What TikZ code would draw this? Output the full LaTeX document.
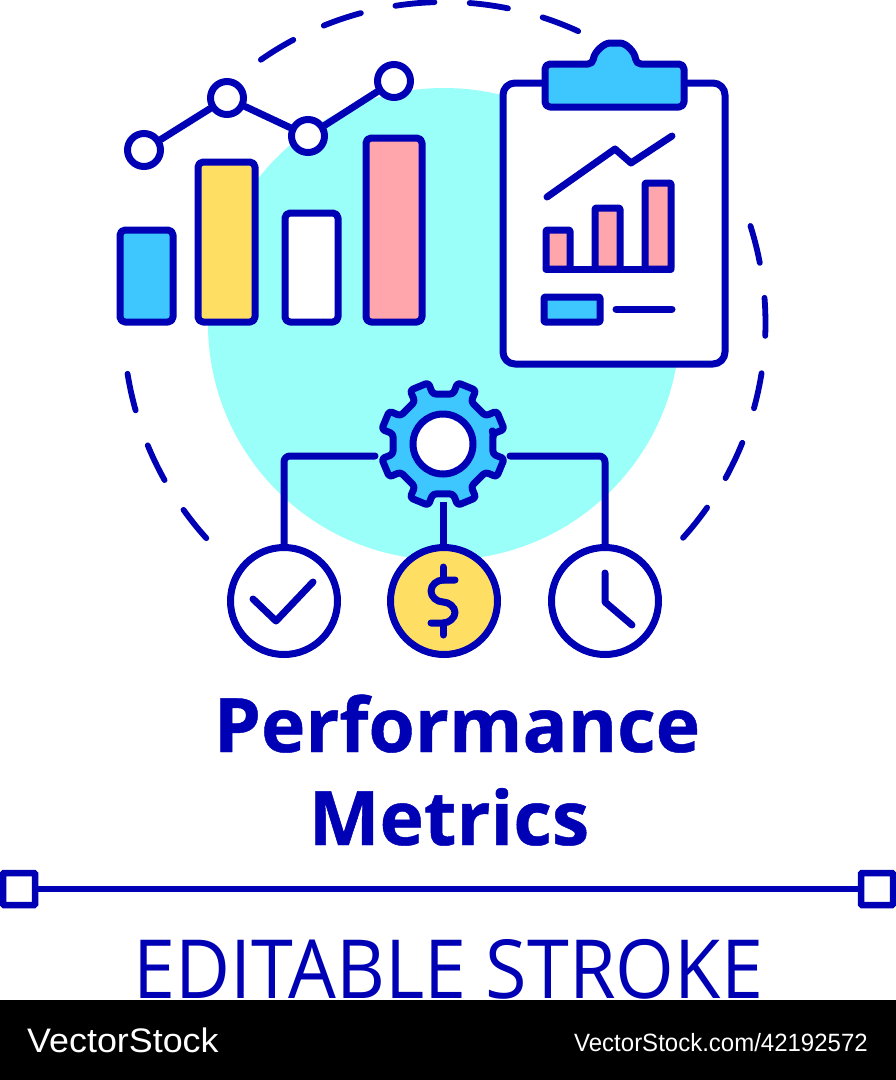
\documentclass[tikz,border=0pt]{standalone}
\usepackage{fontspec}
\setmainfont{Open Sans}
\newfontfamily\wmfont{Liberation Sans}
\newfontfamily\titlefont[FakeBold=0.6]{Open Sans Bold}
\definecolor{ink}{HTML}{0000B4}
\definecolor{aqua}{HTML}{9BFFF9}
\definecolor{sky}{HTML}{3EC6FF}
\definecolor{sun}{HTML}{FFDF63}
\definecolor{rose}{HTML}{FFA6AC}
\tikzset{
  ln/.style={draw=ink,line width=7pt,line cap=round,line join=round},
  barbox/.style={ln,rounded corners=5pt},
  smallbar/.style={ln,fill=rose,rounded corners=1pt},
  dot/.style={circle,draw=ink,line width=7pt,fill=white,minimum size=33pt,inner sep=0pt},
  disc/.style={circle,draw=ink,line width=7pt,minimum size=107pt,inner sep=0pt},
  dashes/.style={draw=ink,line width=5.8pt,line cap=round},
  handle/.style={draw=ink,line width=6.5pt,fill=white,rounded corners=1pt},
  wire/.style={ln,rounded corners=6pt}
}
\begin{document}
\begin{tikzpicture}[x=1pt,y=-1pt]
\useasboundingbox (0,0) rectangle (896,1080);
\fill[white] (0,0) rectangle (896,1080);
% aqua disc
\fill[aqua] (444,324) circle[radius=236pt];
% dashed ring
\foreach \p/\q in {124.9/118.1,112.1/105.1,98.8/91.8,85.5/78.6,72.2/65.4,17.6/10.8,4.5/-2.3,-9/-15.4,-21.9/-28.9,-35.1/-42,189.1/195.8,202.4/209.3,215.6/222.1}{
  \draw[dashes] plot[domain=\p:\q,samples=10,smooth] ({444.5+321*cos(\x)},{323-321*sin(\x)});
}
% bars
\draw[barbox,fill=sky] (120,230) rectangle (173,322);
\draw[barbox,fill=sun] (198,162) rectangle (255,322);
\draw[barbox,fill=white] (285,213) rectangle (338,322);
\draw[barbox,fill=rose] (366,138) rectangle (422,322);
% line chart
\node[dot] (p1) at (144,150) {};
\node[dot] (p2) at (227,98) {};
\node[dot] (p3) at (308,136) {};
\node[dot] (p4) at (394,81) {};
\draw[ln] (p1) -- (p2);
\draw[ln] (p2) -- (p3);
\draw[ln] (p3) -- (p4);
% clipboard
\draw[ln,fill=white,rounded corners=12pt] (503,83) rectangle (725,364);
\draw[ln,fill=sky,rounded corners=5pt] (593,64) .. controls (594,52) and (604,43) .. (615,43) .. controls (626,43) and (635,52) .. (636,64) -- (684,64) -- (684,107) -- (545,107) -- (545,64) -- cycle;
\draw[ln] (547,197) -- (615,149) -- (631,163) -- (672,136);
\draw[smallbar] (546,230) rectangle (570,269);
\draw[smallbar] (595,208) rectangle (620,269);
\draw[smallbar] (645,183) rectangle (671,269);
\draw[ln] (546,269) -- (671,269);
\draw[ln,fill=sky,rounded corners=1pt] (544,297) rectangle (600,322);
\draw[ln] (616,309) -- (672,309);
% gear
\draw[ln,fill=sky,rounded corners=3pt] ({443+51*cos(12)},{444-51*sin(12)})
  \foreach \a in {22.5,67.5,...,337.5}{
    -- ({443+51*cos(\a-11)},{444-51*sin(\a-11)})
    -- ({443+63*cos(\a-9)},{444-63*sin(\a-9)})
    -- ({443+63*cos(\a+9)},{444-63*sin(\a+9)})
    -- ({443+51*cos(\a+11)},{444-51*sin(\a+11)})
  } -- cycle;
\node[circle,draw=ink,line width=7pt,fill=white,minimum size=60pt,inner sep=0pt] (hub) at (443,444) {};
% metric discs
\node[disc,fill=white] (chk) at (284,601) {};
\node[disc,fill=sun] (usd) at (444,601) {};
\node[disc,fill=white] (clk) at (605,601) {};
\coordinate (gl) at (375,456);
\coordinate (gr) at (510,456);
\coordinate (gb) at (443,502);
\draw[wire] (gl) -| (chk.north);
\draw[wire] (gr) -| (clk.north);
\draw[ln,line cap=butt] (gb) -- (gb |- usd.north);
% icons
\draw[ln] (253,599) -- (276,621) -- (313,582);
\draw[ln] (443,567) -- (443,580);
\draw[ln] (443,623) -- (443,635);
\draw[ln] (455,580) -- (443,580) .. controls (437,580) and (431,585) .. (431,591) .. controls (431,597) and (437,602) .. (443,602) .. controls (449,602) and (455,607) .. (455,612.5) .. controls (455,618) and (449,623) .. (443,623) -- (431,623);
\draw[ln] (605,573) -- (605,602) -- (632,625);
% title
\node[anchor=base,text=ink,inner sep=0pt] (t1) at (457,752) {\titlefont\fontsize{75pt}{75pt}\selectfont Performance};
\node[anchor=base,text=ink,inner sep=0pt] (t2) at (449,845) {\titlefont\fontsize{75pt}{75pt}\selectfont Metrics};
% ruler
\node[handle,minimum size=0pt,inner sep=0pt,minimum width=32pt,minimum height=32pt] (hl) at (19,889) {};
\node[handle,minimum size=0pt,inner sep=0pt,minimum width=32pt,minimum height=32pt] (hr) at (877,889) {};
\draw[draw=ink,line width=6.5pt] (hl) -- (hr);
% editable stroke
\node[anchor=base,text=ink,inner sep=0pt] (es) at (448.5,998) {\scalebox{0.944}[1.02]{\fontsize{80pt}{80pt}\selectfont EDITABLE STROKE}};
% footer
\fill[black] (0,1000) rectangle (896,1080);
\node[anchor=base west,text=white,inner sep=0pt] (w1) at (27,1052) {\scalebox{1.055}[1]{\wmfont\fontsize{34pt}{34pt}\selectfont VectorStock}};
\node[anchor=base west,text=white,inner sep=0pt] (w2) at (574,1051) {\scalebox{0.96}[1]{\wmfont\fontsize{25pt}{25pt}\selectfont VectorStock.com/42192572}};
\end{tikzpicture}
\end{document}
